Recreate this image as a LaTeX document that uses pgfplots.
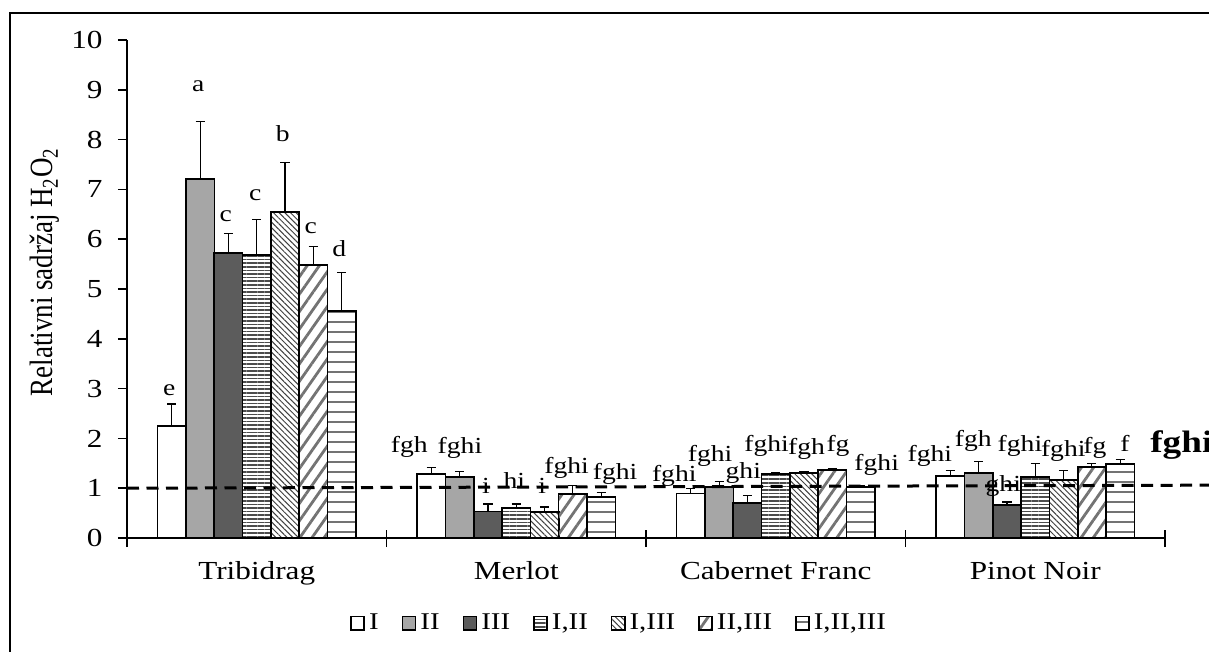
\documentclass[border=0pt]{standalone}
\usepackage{fontspec}
\setmainfont{Liberation Serif}
\usepackage{graphicx}
\usepackage{pgfplots}
\pgfplotsset{compat=1.18}
\usetikzlibrary{patterns.meta}
\newcommand{\sx}[1]{\scalebox{1.2}[1]{#1}}
\newcommand{\fs}[1]{\fontsize{#1}{#1}\selectfont}
\definecolor{gII}{HTML}{A6A6A6}
\definecolor{gIII}{HTML}{5C5C5C}
\pgfplotsset{
  errs/.style={error bars/y dir=plus, error bars/y explicit,
    error bars/error bar style={line width=0.65bp, black, solid},
    error bars/error mark options={rotate=90, black, line width=0.65bp, mark size=2.3bp, solid}},
  bbase/.style={ybar, bar width=0.10905, bar shift=0, draw=black, line width=0.8bp, errs},
}
\begin{document}
\begin{tikzpicture}
\useasboundingbox (-63.5bp,-57bp) rectangle (541bp,269bp);
\clip (-63.5bp,-57bp) rectangle (541bp,269bp);
\draw[line width=1bp] (-58.5bp,-80bp) -- (-58.5bp,262.5bp) -- (600bp,262.5bp);
\begin{axis}[
  at={(0,0)}, anchor=south west, scale only axis, width=519bp, height=249bp,
  xmin=-0.5, xmax=3.5, ymin=0, ymax=10,
  axis x line=bottom, axis y line=left,
  axis line style={-, line width=0.75bp, black},
  clip=false,
  tick align=outside,
  major tick length=4.5bp,
  tick style={line width=0.75bp, black},
  ytick={0,...,10},
  yticklabel={\sx{\pgfmathprintnumber[assume math mode=true]{\tick}}},
  yticklabel style={font=\fs{13bp}, anchor=east, inner sep=0pt, xshift=-7.5bp},
  xtick={-0.5,0.5,1.5,2.5,3.5}, xticklabels={},
  extra x ticks={0,1,2,3},
  extra x tick labels={\sx{Tribidrag},\sx{Merlot},\sx{Cabernet Franc},\sx{Pinot Noir}},
  extra x tick style={major tick length=0pt,
    xticklabel style={anchor=base, inner sep=0pt, yshift=-20.5bp, font=\fs{13bp}}},
  ylabel={\scalebox{1}[1.2]{Relativni sadržaj H\textsubscript{2}O\textsubscript{2}}},
  ylabel style={at={(axis description cs:-0.079,0.534)}, anchor=center, font=\fs{13.5bp}},
  legend style={at={(axis description cs:0.475,-0.171)}, anchor=center, draw=none, fill=none,
    legend columns=-1, font=\fs{12bp}, inner sep=0pt,
    /tikz/every even column/.append style={column sep=9.5bp}},
  legend image code/.code={\draw[line width=0.8bp,#1] (0bp,-3.4bp) rectangle (6.6bp,3.4bp);},
]
% I
\addplot[bbase, fill=white] table[x=x,y=y,y error=e] {
x y e
-0.3272 2.25 0.44
0.6728 1.29 0.12
1.6728 0.89 0.11
2.6728 1.24 0.12
};
% II
\addplot[bbase, fill=gII] table[x=x,y=y,y error=e] {
x y e
-0.2181 7.21 1.16
0.7819 1.22 0.11
1.7819 1.03 0.10
2.7819 1.30 0.23
};
% III
\addplot[bbase, fill=gIII] table[x=x,y=y,y error=e] {
x y e
-0.1091 5.72 0.39
0.8909 0.53 0.15
1.8909 0.70 0.16
2.8909 0.66 0.06
};
% I,II
\addplot[bbase, pattern={Lines[angle=0,distance=1.8bp,line width=0.8bp]}, pattern color=black!70] table[x=x,y=y,y error=e] {
x y e
0 5.68 0.72
1 0.60 0.08
2 1.28 0.03
3 1.23 0.26
};
% I,III
\addplot[bbase, pattern={Lines[angle=-45,distance=2bp,line width=0.5bp]}, pattern color=black!75] table[x=x,y=y,y error=e] {
x y e
0.1091 6.55 0.99
1.1091 0.52 0.10
2.1091 1.31 0.02
3.1091 1.16 0.20
};
% II,III
\addplot[bbase, pattern={Lines[angle=55,distance=5bp,line width=1.4bp]}, pattern color=black!55] table[x=x,y=y,y error=e] {
x y e
0.2181 5.48 0.37
1.2181 0.88 0.17
2.2181 1.37 0.02
3.2181 1.43 0.06
};
% I,II,III
\addplot[bbase, pattern={Lines[angle=0,distance=5bp,line width=1bp]}, pattern color=black!55] table[x=x,y=y,y error=e] {
x y e
0.3272 4.56 0.77
1.3272 0.82 0.10
2.3272 1.02 0.04
3.3272 1.49 0.09
};
\legend{\sx{I},\sx{II},\sx{III},\sx{I,II},\sx{I,III},\sx{II,III},\sx{I,II,III}}
% letters
\addplot[draw=none, mark=none, forget plot, point meta=explicit symbolic,
  nodes near coords={\sx{\pgfplotspointmeta}},
  every node near coord/.style={anchor=base, inner sep=0pt, font=\fs{11.5bp}, text=black}]
  table[meta=l] {
x y l
-0.337 2.871 e
-0.225 8.962 a
-0.119 6.351 c
-0.006 6.773 c
0.100 7.958 b
0.208 6.118 c
0.318 5.649 d
0.588 1.713 fgh
0.783 1.701 fghi
0.883 0.898 i
0.993 0.998 hi
1.100 0.898 i
1.194 1.299 fghi
1.381 1.165 fghi
1.609 1.131 fghi
1.747 1.532 fghi
1.875 1.199 ghi
1.965 1.733 fghi
2.119 1.667 fgh
2.240 1.727 fg
2.389 1.365 fghi
2.594 1.532 fghi
2.761 1.847 fgh
2.877 0.930 ghi
2.941 1.733 fghi
3.108 1.633 fghi
3.230 1.701 fg
3.346 1.733 f
};
% dashed reference line
\addplot[forget plot, black, line width=1.5bp, dash pattern=on 6bp off 3.75bp] coordinates {(-0.5,1.0) (3.75,1.062)};
\pgfplotsinvokeforeach{-0.5,0.5,1.5,2.5,3.5}{\draw[line width=0.75bp] (axis cs:#1,0) -- ++(0pt,4bp);}
\node[anchor=base west, inner sep=0pt, font=\fs{15.5bp}\bfseries] at (axis cs:3.442,1.707) {\sx{fghi}};
\end{axis}
\end{tikzpicture}
\end{document}
